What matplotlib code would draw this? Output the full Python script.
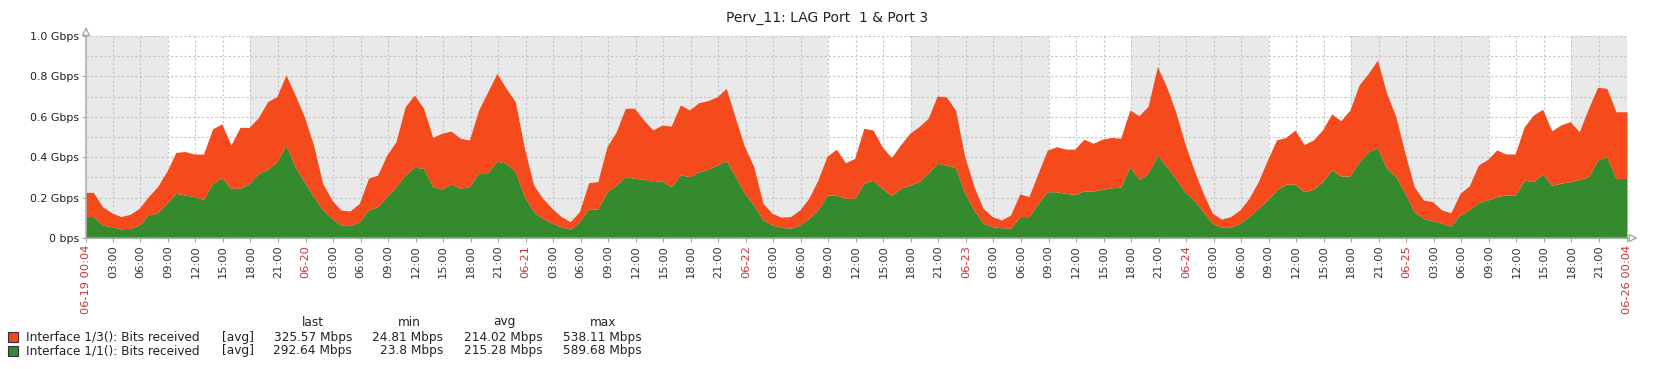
import matplotlib
matplotlib.use("Agg")
import matplotlib.pyplot as plt
import matplotlib.dates as mdates
from matplotlib.patches import Rectangle
import numpy as np
import pandas as pd

plt.rcParams["font.family"] = ["DejaVu Sans"]

title = "Perv_11: LAG Port  1 & Port 3"
start = pd.Timestamp("2015-06-19 00:04")
end = pd.Timestamp("2015-06-26 00:04")
times = pd.date_range("2015-06-19 00:52", periods=167, freq="h")

# hourly averages, Mbps
if_1_1 = [106, 64, 56, 45, 48, 64, 114, 125, 172, 221, 213, 205, 191, 271, 299, 246, 246, 271, 320, 340,
          378, 460, 353, 279, 205, 139, 97, 64, 61, 81, 139, 155, 205, 254, 312, 350, 345, 254, 243, 267,
          246, 254, 323, 323, 381, 370, 328, 205, 130, 97, 73, 56, 43, 81, 144, 144, 229, 262, 304, 295,
          292, 279, 282, 254, 312, 304, 328, 340, 361, 383, 304, 221, 163, 89, 64, 53, 48, 64, 97, 139,
          213, 213, 196, 196, 271, 287, 246, 210, 246, 262, 279, 320, 370, 361, 348, 221, 139, 73, 56, 51,
          48, 106, 106, 172, 229, 229, 221, 216, 233, 233, 241, 249, 251, 353, 290, 320, 411, 353, 295, 229,
          188, 130, 73, 53, 53, 73, 106, 147, 188, 238, 267, 267, 229, 241, 279, 337, 307, 307, 378, 427,
          447, 345, 304, 221, 130, 97, 86, 73, 59, 114, 139, 175, 188, 205, 213, 213, 287, 279, 317, 262,
          271, 279, 290, 304, 386, 403, 295]
if_1_3 = [120, 91, 69, 61, 69, 83, 91, 129, 157, 203, 215, 211, 224, 269, 266, 215, 302, 277, 277, 335,
          322, 347, 355, 322, 256, 132, 91, 74, 73, 91, 157, 157, 206, 223, 338, 358, 297, 244, 276, 262,
          248, 231, 310, 401, 434, 371, 347, 239, 132, 99, 74, 50, 38, 50, 130, 135, 223, 264, 338, 347,
          292, 256, 277, 300, 347, 330, 342, 340, 338, 358, 289, 231, 190, 83, 58, 50, 58, 74, 99, 149,
          193, 226, 177, 198, 272, 248, 206, 188, 215, 256, 272, 272, 333, 338, 285, 182, 116, 74, 50, 38,
          66, 112, 99, 149, 206, 223, 219, 224, 256, 236, 248, 249, 243, 281, 315, 333, 437, 396, 330, 239,
          149, 91, 50, 40, 53, 66, 91, 132, 198, 248, 231, 267, 234, 244, 256, 277, 274, 327, 380, 388,
          434, 371, 297, 198, 124, 91, 94, 66, 66, 107, 119, 186, 201, 231, 203, 203, 264, 330, 320, 269,
          289, 297, 236, 338, 360, 338, 330]

names = ["Interface 1/3(): Bits received", "Interface 1/1(): Bits received"]
stat_last = ["325.57 Mbps", "292.64 Mbps"]
stat_min = ["24.81 Mbps", "23.8 Mbps"]
stat_avg = ["214.02 Mbps", "215.28 Mbps"]
stat_max = ["538.11 Mbps", "589.68 Mbps"]

work_days = ["2015-06-19", "2015-06-22", "2015-06-23", "2015-06-24", "2015-06-25"]
y_ticks = [0, 200, 400, 600, 800, 1000]

orange = "#F44A1C"
green = "#348A2D"
red_txt = "#C83434"
axis_col = "#A8A8A8"
grid_col = "#C4C4C4"

W, H = 1658, 369
fig = plt.figure(figsize=(W / 100, H / 100), dpi=100)
ax = fig.add_axes([86 / W, 131 / H, 1541 / W, 202 / H])
ax.set_facecolor("#E9E9E9")

x0, x1 = mdates.date2num(start), mdates.date2num(end)
xs = np.concatenate([[x0], mdates.date2num(times.to_pydatetime()), [x1]])
g = np.array(if_1_1, dtype=float)
o = np.array(if_1_3, dtype=float)
g = np.concatenate([[g[0]], g, [g[-1]]])
o = np.concatenate([[o[0]], o, [o[-1]]])

for d in work_days:
    day = pd.Timestamp(d)
    ax.axvspan(mdates.date2num(day + pd.Timedelta(hours=9)),
               mdates.date2num(day + pd.Timedelta(hours=18)),
               color="white", zorder=0, lw=0)

ax.fill_between(xs, 0, g, color=green, lw=0, zorder=2)
ax.fill_between(xs, g, g + o, color=orange, lw=0, zorder=2)

ax.set_xlim(x0, x1)
ax.set_ylim(0, 1000)

# x ticks every 3 hours, day boundaries in red
tick_times = pd.date_range("2015-06-19 03:00", "2015-06-25 21:00", freq="3h")
ticks = [x0] + list(mdates.date2num(tick_times.to_pydatetime())) + [x1]
labels = [start.strftime("%m-%d %H:%M")]
colors = [red_txt]
for t in tick_times:
    if t.hour == 0:
        labels.append(t.strftime("%m-%d"))
        colors.append(red_txt)
    else:
        labels.append(t.strftime("%H:%M"))
        colors.append("#333333")
labels.append(end.strftime("%m-%d %H:%M"))
colors.append(red_txt)
ax.set_xticks(ticks)
ax.set_xticklabels(labels, rotation=90, fontsize=8.2)
for lab, c in zip(ax.get_xticklabels(), colors):
    lab.set_color(c)

ax.set_yticks(y_ticks)
ax.set_yticklabels(["0 bps" if v == 0 else "%.1f Gbps" % (v / 1000) for v in y_ticks],
                   fontsize=7.9, color="#222222")
ax.set_yticks(np.arange(100, 1000, 200), minor=True)
ax.tick_params(axis="both", which="major", length=3, width=0.8, color=axis_col, pad=2)
ax.tick_params(axis="y", which="minor", length=0)

ax.set_axisbelow(True)
ax.grid(True, axis="x", which="major", color=grid_col, linestyle=(0, (2, 2)), lw=0.8)
ax.grid(True, axis="y", which="both", color=grid_col, linestyle=(0, (2, 2)), lw=0.8)

for s in ax.spines.values():
    s.set_visible(False)
ax.annotate("", xy=(0, 1.045), xytext=(0, 0), xycoords="axes fraction",
            arrowprops=dict(arrowstyle="-|>,head_length=0.5,head_width=0.25", color=axis_col,
                            fc="white", lw=1, shrinkA=0, shrinkB=0), annotation_clip=False, zorder=5)
ax.annotate("", xy=(1.007, 0), xytext=(0, 0), xycoords="axes fraction",
            arrowprops=dict(arrowstyle="-|>,head_length=0.5,head_width=0.25", color=axis_col,
                            fc="white", lw=1, shrinkA=0, shrinkB=0), annotation_clip=False, zorder=5)

fig.text(827 / W, 1 - 18 / H, title, ha="center", va="center", fontsize=10, color="#222222")

# legend table
leg_font = dict(fontsize=8.7, color="#222222", va="center")
for x, txt in zip([313, 409, 504, 603], ["last", "min", "avg", "max"]):
    fig.text(x / W, 1 - 322 / H, txt, ha="center", **leg_font)
for i, (name, c) in enumerate(zip(names, [orange, green])):
    y = 337 + 13.5 * i
    fig.patches.append(Rectangle((8 / W, 1 - (y + 5) / H), 10 / W, 10 / H, transform=fig.transFigure,
                                 facecolor=c, edgecolor="#333333", lw=0.8))
    fig.text(26 / W, 1 - y / H, name, ha="left", **leg_font)
    fig.text(222 / W, 1 - y / H, "[avg]", ha="left", **leg_font)
    for x, col in zip([352, 443, 543, 642], [stat_last, stat_min, stat_avg, stat_max]):
        fig.text(x / W, 1 - y / H, col[i], ha="right", **leg_font)

fig.savefig("out.png", dpi=100)
